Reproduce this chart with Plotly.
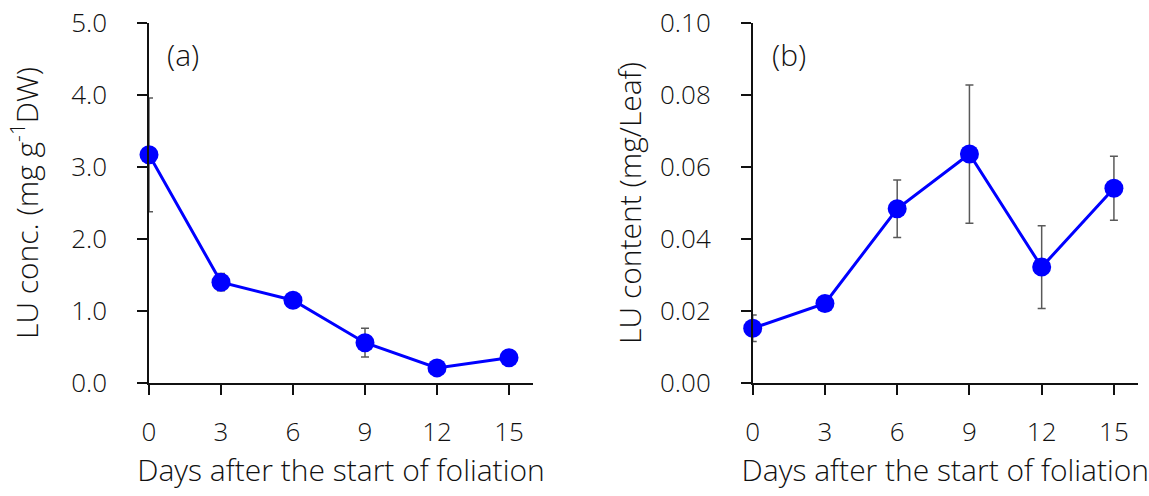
import plotly.graph_objects as go

# Sampling days after the start of foliation
days = [0, 3, 6, 9, 12, 15]

# (a) LU concentration, mg g-1 DW (mean and error)
conc_mean = [3.17, 1.40, 1.15, 0.56, 0.21, 0.35]
conc_err = [0.79, 0.12, 0.05, 0.20, 0.03, 0.03]

# (b) LU content, mg per leaf (mean and error)
content_mean = [0.0152, 0.0221, 0.0484, 0.0636, 0.0322, 0.0541]
content_err = [0.0037, 0.0010, 0.0080, 0.0192, 0.0115, 0.0089]

x_ticks = [0, 3, 6, 9, 12, 15]
conc_ticks = [0, 1, 2, 3, 4, 5]
content_ticks = [0, 0.02, 0.04, 0.06, 0.08, 0.10]

FONT = dict(family="Open Sans, sans-serif", size=26, color="#111111", weight=300)
TITLE_FONT = dict(FONT, size=30)
BLUE = "#0000FF"
W, H = 1149, 496

fig = go.Figure()


def add_series(y, err, xa, ya):
    fig.add_trace(go.Scatter(
        x=days, y=y, xaxis=xa, yaxis=ya, mode="lines+markers",
        line=dict(color=BLUE, width=3),
        marker=dict(color=BLUE, size=19),
        error_y=dict(type="data", array=err, visible=True,
                     color="#595959", thickness=1.5, width=4),
        cliponaxis=False, showlegend=False,
    ))


add_series(conc_mean, conc_err, "x", "y")
add_series(content_mean, content_err, "x2", "y2")

axis_common = dict(
    showline=True, linecolor="#111111", linewidth=1.5,
    ticks="outside", ticklen=10, tickwidth=1.5, tickcolor="#111111",
    showgrid=False, zeroline=False, tickfont=FONT,
    title_font=TITLE_FONT, automargin=False,
)

xa_dom = [149 / W, 533 / W]
xb_dom = [752.7 / W, 1138 / W]

fig.update_layout(
    width=W, height=H,
    margin=dict(l=0, r=0, t=23, b=113),
    paper_bgcolor="white", plot_bgcolor="white",
    font=FONT,
    xaxis=dict(domain=xa_dom, range=[0, 16], tickvals=x_ticks,
               ticklabelstandoff=15, anchor="y",
               title=dict(text="Days after the start of foliation", standoff=10),
               **axis_common),
    yaxis=dict(domain=[0, 1], range=[0, 5], tickvals=conc_ticks,
               tickformat=".1f", ticklabelstandoff=25, anchor="x",
               title=dict(text="LU conc. (mg g<sup>-1</sup>DW)", standoff=24),
               **axis_common),
    xaxis2=dict(domain=xb_dom, range=[0, 16], tickvals=x_ticks,
                ticklabelstandoff=15, anchor="y2",
                title=dict(text="Days after the start of foliation", standoff=10),
                **axis_common),
    yaxis2=dict(domain=[0, 1], range=[0, 0.1], tickvals=content_ticks,
                tickformat=".2f", ticklabelstandoff=25, anchor="x2",
                title=dict(text="LU content (mg/Leaf)", standoff=10),
                **axis_common),
    annotations=[
        dict(text="(a)", xref="x", yref="y", x=1.4, y=4.56, showarrow=False, font=TITLE_FONT),
        dict(text="(b)", xref="x2", yref="y2", x=1.5, y=0.0912, showarrow=False, font=TITLE_FONT),
    ],
)

fig.write_html("out.html")
